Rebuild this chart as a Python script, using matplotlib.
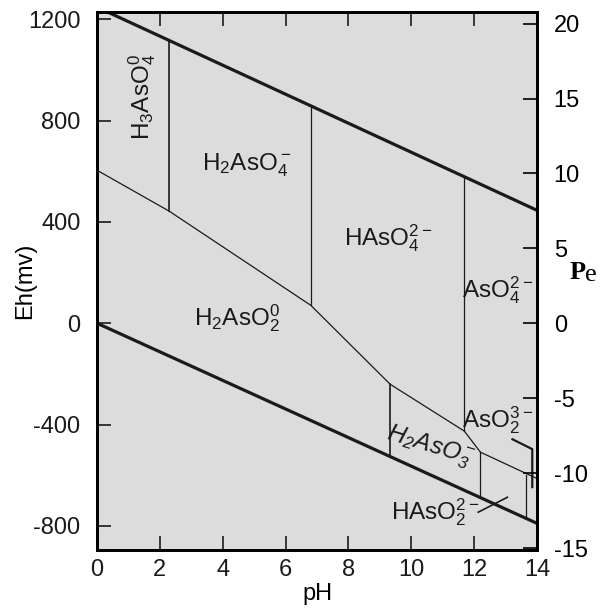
import matplotlib.pyplot as plt

plt.rcParams['font.family'] = 'Liberation Sans'
plt.rcParams['mathtext.default'] = 'regular'
plt.rcParams['axes.unicode_minus'] = False

# water stability limits (pH, Eh in mV)
upper_ph = [0, 14]
upper_eh = [1248, 446]
lower_ph = [0, 14]
lower_eh = [0, -790]

# As(V) / As(III) boundary
redox_ph = [0, 2.29, 6.8, 9.33, 11.69, 12.2, 14]
redox_eh = [604, 443, 71, -241, -426, -509, -613]

# vertical boundaries: pH, Eh bottom, Eh top, width
vert_ph = [2.29, 6.8, 11.69, 9.33, 12.2, 13.66]
vert_lo = [443, 71, -426, -529, -687, -766]
vert_hi = [1118, 860, 581, -241, -509, -600]
vert_lw = [1.2, 0.9, 0.9, 1.2, 0.9, 0.9]

# leader lines
lead1_ph = [13.22, 13.85, 13.85]
lead1_eh = [-458, -497, -647]
lead2_ph = [12.13, 13.06]
lead2_eh = [-746, -687]

labels = [r'H$_3$AsO$_4^0$', r'H$_2$AsO$_4^-$', r'HAsO$_4^{2-}$', r'AsO$_4^{2-}$',
          r'H$_2$AsO$_2^0$', r'H$_2$AsO$_3^-$', r'AsO$_2^{3-}$', r'HAsO$_2^{2-}$']
lab_ph = [1.45, 4.75, 9.27, 12.74, 4.45, 10.6, 12.74, 10.76]
lab_eh = [895, 624, 336, 130, 20, -490, -383, -746]
lab_rot = [90, 0, 0, 0, 0, -17, 0, 0]
lab_style = ['normal'] * 5 + ['italic'] + ['normal'] * 2

fig = plt.figure(figsize=(6.03, 6.12), dpi=100)
ax = fig.add_axes([0.161, 0.101, 0.7295, 0.879])
ax.set_facecolor('#dcdcdc')

ax.plot(upper_ph, upper_eh, color='#1a1a1a', lw=2.3)
ax.plot(lower_ph, lower_eh, color='#1a1a1a', lw=2.3)
ax.plot(redox_ph, redox_eh, color='#1a1a1a', lw=0.9)
for p, lo, hi, w in zip(vert_ph, vert_lo, vert_hi, vert_lw):
    ax.plot([p, p], [lo, hi], color='#1a1a1a', lw=w)
ax.plot(lead1_ph, lead1_eh, color='#1a1a1a', lw=1.6)
ax.plot(lead2_ph, lead2_eh, color='#1a1a1a', lw=1.2)

for t, x, y, r, s in zip(labels, lab_ph, lab_eh, lab_rot, lab_style):
    ax.text(x, y, t, fontsize=17.5, rotation=r, style=s, ha='center', va='center',
            color='#1a1a1a')

ax.set_xlim(0, 14)
ax.set_ylim(-896, 1228)
ax.set_xticks([0, 2, 4, 6, 8, 10, 12, 14])
ax.set_yticks([-800, -400, 0, 400, 800, 1200])
ax.tick_params(direction='in', length=10, width=1.2, labelsize=17, top=True, colors='#1a1a1a')
ax.tick_params(axis='y', pad=12)
ax.tick_params(axis='x', pad=6)
for sp in ax.spines.values():
    sp.set_linewidth(2)
ax.set_xlabel('pH', fontsize=17, labelpad=2)
ax.set_ylabel('Eh(mv)', fontsize=17, labelpad=-6)

ax2 = ax.twinx()
ax2.set_ylim(-896 / 59.16, 1228 / 59.16)
ax2.set_yticks([-15, -10, -5, 0, 5, 10, 15, 20])
ax2.tick_params(direction='in', length=10, width=1.2, labelsize=17, pad=12)
for sp in ax2.spines.values():
    sp.set_linewidth(2)

fig.text(0.958, 0.555, 'P', fontsize=19, fontweight='bold', family='Liberation Serif',
         ha='center', va='center')
fig.text(0.980, 0.551, 'e', fontsize=19, family='Liberation Serif', ha='center', va='center')

fig.savefig('out.png', dpi=100, facecolor='white')
